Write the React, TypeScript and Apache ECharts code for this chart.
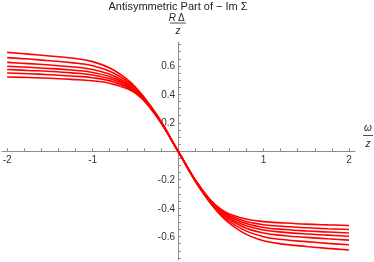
import React, { useEffect, useRef } from "react";
import * as echarts from "echarts";

// ω/z sample positions
const omega = [-2, -1.75, -1.5, -1.25, -1, -0.75, -0.5, -0.25, 0, 0.25, 0.5, 0.75, 1, 1.25, 1.5, 1.75, 2];

// R Δ / z for each curve (top to bottom at ω = -2)
const curve1 = [0.695, 0.683, 0.67, 0.655, 0.63, 0.569, 0.452, 0.258, 0, -0.258, -0.452, -0.569, -0.63, -0.655, -0.67, -0.683, -0.695];
const curve2 = [0.658, 0.648, 0.636, 0.623, 0.601, 0.548, 0.443, 0.254, 0, -0.254, -0.443, -0.548, -0.601, -0.623, -0.636, -0.648, -0.658];
const curve3 = [0.625, 0.616, 0.606, 0.594, 0.575, 0.529, 0.434, 0.251, 0, -0.251, -0.434, -0.529, -0.575, -0.594, -0.606, -0.616, -0.625];
const curve4 = [0.598, 0.59, 0.582, 0.571, 0.554, 0.514, 0.427, 0.249, 0, -0.249, -0.427, -0.514, -0.554, -0.571, -0.582, -0.59, -0.598];
const curve5 = [0.575, 0.568, 0.561, 0.551, 0.536, 0.5, 0.421, 0.247, 0, -0.247, -0.421, -0.5, -0.536, -0.551, -0.561, -0.568, -0.575];
const curve6 = [0.55, 0.545, 0.538, 0.529, 0.517, 0.486, 0.415, 0.245, 0, -0.245, -0.415, -0.486, -0.517, -0.529, -0.538, -0.545, -0.55];
const curve7 = [0.522, 0.518, 0.513, 0.505, 0.495, 0.47, 0.408, 0.243, 0, -0.243, -0.408, -0.47, -0.495, -0.505, -0.513, -0.518, -0.522];

const curves = [curve1, curve2, curve3, curve4, curve5, curve6, curve7];

// ticks and labels
const xTickValues = [-2, -1.8, -1.6, -1.4, -1.2, -1, -0.8, -0.6, -0.4, -0.2, 0.2, 0.4, 0.6, 0.8, 1, 1.2, 1.4, 1.6, 1.8, 2];
const xLabelValues = [-2, -1, 1, 2];
const yTickValues = [-0.75, -0.7, -0.65, -0.6, -0.55, -0.5, -0.45, -0.4, -0.35, -0.3, -0.25, -0.2, -0.15, -0.1, -0.05, 0.05, 0.1, 0.15, 0.2, 0.25, 0.3, 0.35, 0.4, 0.45, 0.5, 0.55, 0.6, 0.65, 0.7, 0.75];
const yLabelValues = [-0.6, -0.4, -0.2, 0.2, 0.4, 0.6];

const titleText = "Antisymmetric Part of \u2212 Im \u03A3";

export default function App() {
  const ref = useRef<HTMLDivElement>(null);
  useEffect(() => {
    const chart = echarts.init(ref.current!, null, { renderer: "svg" });
    const font = "Liberation Sans, Arial, sans-serif";
    const axisColor = "#8c8c8c";
    const gLeft = 2, gRight = 19, gTop = 42, gBottom = 2;
    const xMin = -2.06, xMax = 2.07, yMin = -0.765, yMax = 0.768;
    const gW = 374 - gLeft - gRight;
    const gH = 262 - gTop - gBottom;
    // place both axes through the origin
    const yAxisOffset = -((0 - xMin) / (xMax - xMin)) * gW;
    const xAxisOffset = -((0 - yMin) / (yMax - yMin)) * gH;
    chart.setOption({
      animation: false,
      grid: { left: gLeft, right: gRight, top: gTop, bottom: gBottom, containLabel: false, outerBoundsMode: "none" },
      xAxis: {
        type: "value",
        min: xMin,
        max: xMax,
        position: "bottom",
        offset: xAxisOffset,
        axisLine: { onZero: false, lineStyle: { color: axisColor, width: 1 } },
        axisTick: { show: true, inside: true, length: 3, customValues: xTickValues, lineStyle: { color: axisColor } },
        axisLabel: {
          customValues: xLabelValues,
          color: "#333",
          fontSize: 10,
          fontFamily: font,
          margin: 3,
          formatter: (v: number) => String(v),
        },
        splitLine: { show: false },
      },
      yAxis: {
        type: "value",
        min: yMin,
        max: yMax,
        position: "left",
        offset: yAxisOffset,
        axisLine: { onZero: false, lineStyle: { color: axisColor, width: 1 } },
        axisTick: { show: true, inside: true, length: 3, customValues: yTickValues, lineStyle: { color: axisColor } },
        axisLabel: {
          customValues: yLabelValues,
          color: "#333",
          fontSize: 10,
          fontFamily: font,
          margin: 3,
          formatter: (v: number) => v.toFixed(1),
        },
        splitLine: { show: false },
      },
      series: curves.map((c, k) => ({
        name: "curve" + (k + 1),
        type: "line",
        data: omega.map((x, i) => [x, c[i]]),
        smooth: 0.4,
        showSymbol: false,
        symbol: "none",
        lineStyle: { color: "#ff0000", width: 1.6 },
        z: 3,
      })),
      graphic: [
        {
          type: "text",
          x: 178,
          y: 0.5,
          style: { text: titleText, fill: "#222", font: `11px ${font}`, lineHeight: 11, textAlign: "center", textVerticalAlign: "top" },
        },
        {
          type: "text",
          x: 176,
          y: 12,
          style: { text: "R", fill: "#222", font: `italic 10px ${font}`, lineHeight: 10, textAlign: "right", textVerticalAlign: "top" },
        },
        {
          type: "text",
          x: 178,
          y: 12,
          style: { text: "\u0394", fill: "#222", font: `10px ${font}`, lineHeight: 10, textAlign: "left", textVerticalAlign: "top" },
        },
        { type: "line", shape: { x1: 170, y1: 23, x2: 186, y2: 23 }, style: { stroke: "#222", lineWidth: 0.8 } },
        {
          type: "text",
          x: 178,
          y: 25.5,
          style: { text: "z", fill: "#222", font: `italic 10px ${font}`, lineHeight: 10, textAlign: "center", textVerticalAlign: "top" },
        },
        {
          type: "text",
          x: 368,
          y: 122,
          style: { text: "\u03C9", fill: "#222", font: `italic 10px ${font}`, lineHeight: 10, textAlign: "center", textVerticalAlign: "top" },
        },
        { type: "line", shape: { x1: 363, y1: 135.5, x2: 373, y2: 135.5 }, style: { stroke: "#222", lineWidth: 0.8 } },
        {
          type: "text",
          x: 368,
          y: 138,
          style: { text: "z", fill: "#222", font: `italic 10px ${font}`, lineHeight: 10, textAlign: "center", textVerticalAlign: "top" },
        },
      ],
    });
    return () => chart.dispose();
  }, []);
  return <div ref={ref} style={{ position: "fixed", left: 0, top: 0, width: 374, height: 262 }} />;
}
